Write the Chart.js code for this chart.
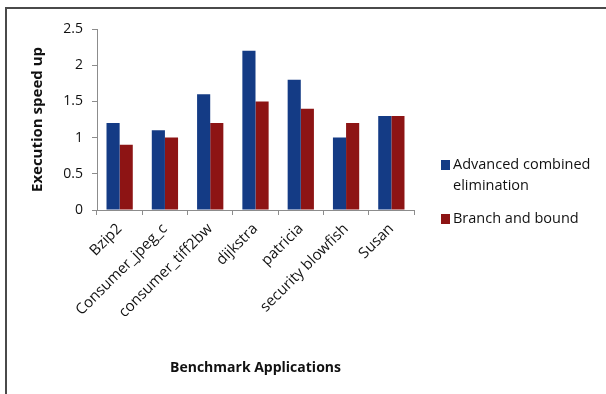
<!DOCTYPE html>
<html>
<head>
<meta charset="utf-8">
<script src="https://cdn.jsdelivr.net/npm/chart.js@4.4.1/dist/chart.umd.min.js"></script>
<style>
  html, body { margin: 0; padding: 0; background: #fff; }
  #wrap { position: relative; width: 606px; height: 394px; }
  #frame { position: absolute; left: 5px; top: 7px; right: 0; bottom: 0;
           border-top: 2px solid #4a4a4a; border-left: 2px solid #4a4a4a; }
  canvas { position: absolute; left: 0; top: 0; }
</style>
</head>
<body>
<div id="wrap">
  <div id="frame"></div>
  <canvas id="c" width="606" height="394"></canvas>
</div>
<script>
const categories = ["Bzip2", "Consumer_jpeg_c", "consumer_tiff2bw", "dijkstra", "patricia", "security blowfish", "Susan"];
const seriesNames = ["Advanced combined elimination", "Branch and bound"];
const advancedValues = [1.2, 1.1, 1.6, 2.2, 1.8, 1.0, 1.3];
const branchValues = [0.9, 1.0, 1.2, 1.5, 1.4, 1.2, 1.3];
const yTickLabels = ["0", "0.5", "1", "1.5", "2", "2.5"];
const seriesColors = ["#143b85", "#8d1414"];

const FONT = "'Open Sans', 'DejaVu Sans', sans-serif";

// Legend drawn at the right of the plot, wrapping long labels
const sideLegend = {
  id: 'sideLegend',
  afterDraw(chart) {
    const ctx = chart.ctx;
    const area = chart.chartArea;
    const x0 = area.right + 27;
    const maxW = 150;
    const lineH = 21;
    let y = 165;
    ctx.save();
    ctx.font = "14.5px " + FONT;
    ctx.textBaseline = 'middle';
    chart.data.datasets.forEach((ds) => {
      const words = ds.label.split(' ');
      const lines = [];
      let cur = '';
      words.forEach(w => {
        const t = cur ? cur + ' ' + w : w;
        if (ctx.measureText(t).width > maxW && cur) { lines.push(cur); cur = w; }
        else cur = t;
      });
      if (cur) lines.push(cur);
      ctx.fillStyle = ds.backgroundColor;
      ctx.fillRect(x0, y - 5, 9, 10);
      ctx.fillStyle = '#111';
      lines.forEach((ln, i) => ctx.fillText(ln, x0 + 12, y + i * lineH));
      y += lines.length * lineH + 12;
    });
    ctx.restore();
  }
};

new Chart(document.getElementById('c'), {
  type: 'bar',
  data: {
    labels: categories,
    datasets: [
      { label: seriesNames[0], data: advancedValues, backgroundColor: seriesColors[0] },
      { label: seriesNames[1], data: branchValues, backgroundColor: seriesColors[1] }
    ]
  },
  options: {
    responsive: false,
    animation: false,
    devicePixelRatio: 1,
    layout: { padding: { top: 29, right: 192, left: 25, bottom: 0 } },
    datasets: { bar: { categoryPercentage: 0.58, barPercentage: 1.0 } },
    plugins: { legend: { display: false }, tooltip: { enabled: false } },
    scales: {
      x: {
        grid: { display: true, drawOnChartArea: false, drawTicks: true, tickLength: 5, color: '#8c8c8c', offset: true },
        border: { display: true, color: '#8c8c8c' },
        ticks: { minRotation: 45, maxRotation: 45, color: '#111', font: { family: FONT, size: 15 }, padding: 5, autoSkip: false },
        title: { display: true, text: 'Benchmark Applications', color: '#111', font: { family: FONT, size: 14, weight: 'bold' }, padding: { top: 4, bottom: 18 } },
        afterFit(scale) { scale.height = 184; }
      },
      y: {
        min: 0, max: 2.5,
        grid: { display: true, drawOnChartArea: false, drawTicks: true, tickLength: 5, color: '#8c8c8c' },
        border: { display: true, color: '#8c8c8c' },
        ticks: {
          stepSize: 0.5, color: '#111', font: { family: FONT, size: 14 }, padding: 9,
          callback: (v, i) => yTickLabels[i]
        },
        title: { display: true, text: 'Execution speed up', color: '#111', font: { family: FONT, size: 15, weight: 'bold' }, padding: 4 },
        afterFit(scale) { scale.width = 72; }
      }
    }
  },
  plugins: [sideLegend]
});
</script>
</body>
</html>
